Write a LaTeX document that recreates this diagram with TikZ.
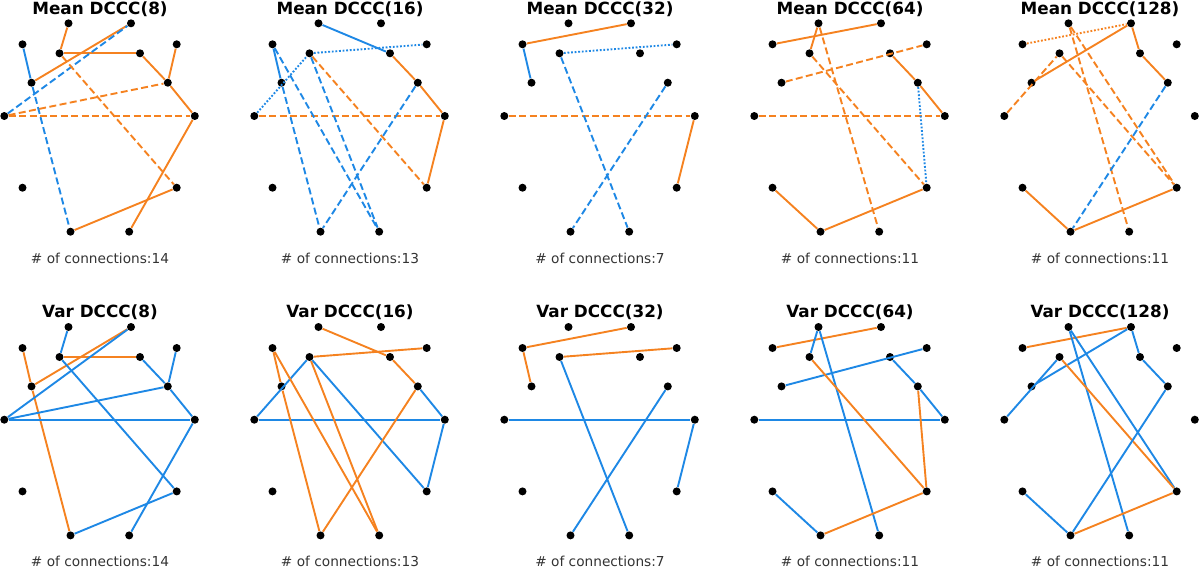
\documentclass[tikz,border=0pt]{standalone}
\usepackage{fontspec}
\setmainfont{DejaVu Sans}
\definecolor{dorange}{RGB}{245,130,32}
\definecolor{dblue}{RGB}{30,136,229}

\begin{document}
\begin{tikzpicture}[
            x=0.5pt, y=-0.5pt,
            pt/.style={circle, fill=black, inner sep=0pt, minimum size=4pt},
            orng/.style={draw=dorange, line width=0.95pt},
            blu/.style={draw=dblue, line width=0.95pt},
            dsh/.style={dash pattern=on 3.5pt off 1.7pt},
            dtt/.style={dash pattern=on 0.9pt off 0.9pt},
            ttl/.style={font=\bfseries\fontsize{8.4}{10}\selectfont},
            cnt/.style={font=\fontsize{6.85}{8}\selectfont, text=black!80},
        ]
            \useasboundingbox (0,0) rectangle (1200,569);
            \foreach \p/\ox/\oy/\ttxt/\ncon in {m8/0/0/Mean DCCC(8)/14, m16/250/0/Mean DCCC(16)/13,
                m32/500/0/Mean DCCC(32)/7, m64/750/0/Mean DCCC(64)/11, m128/1000/0/Mean DCCC(128)/11,
                v8/0/303.7/Var DCCC(8)/14, v16/250/303.7/Var DCCC(16)/13, v32/500/303.7/Var DCCC(32)/7,
                v64/750/303.7/Var DCCC(64)/11, v128/1000/303.7/Var DCCC(128)/11} {
                \node[ttl] (\p t) at (\ox+100, \oy+9) {\ttxt};
                \node[cnt] (\p c) at (\ox+100, \oy+258) {\# of connections:\ncon};
                \foreach \n/\x/\y in {a/68.5/23.3, b/131/23.3, c/22.5/44.3, d/59.5/53.3, e/140/53.3,
                    f/176.7/44.3, g/31.5/82.7, h/167.8/82.7, i/4.3/116, j/194.8/116,
                    k/22.5/187.7, l/176.7/187.7, m/70.5/231.7, n/129.2/231.7}
                    \node[pt] (\p\n) at (\ox+\x, \oy+\y) {};
            }
            \path (m8a) edge[orng] (m8d) (m8c) edge[blu] (m8g) (m8g) edge[orng] (m8b)
                (m8d) edge[orng] (m8e) (m8e) edge[orng] (m8h) (m8h) edge[orng] (m8j)
                (m8f) edge[orng] (m8h) (m8i) edge[blu, dsh] (m8b) (m8i) edge[orng, dsh] (m8h)
                (m8i) edge[orng, dsh] (m8j) (m8g) edge[blu, dsh] (m8m) (m8d) edge[orng, dsh] (m8l)
                (m8m) edge[orng] (m8l) (m8n) edge[orng] (m8j);
            \path (v8a) edge[blu] (v8d) (v8c) edge[orng] (v8g) (v8g) edge[orng] (v8m)
                (v8g) edge[orng] (v8b) (v8d) edge[orng] (v8e) (v8i) edge[blu] (v8b)
                (v8d) edge[blu] (v8l) (v8e) edge[blu] (v8h) (v8h) edge[blu] (v8j)
                (v8f) edge[blu] (v8h) (v8i) edge[blu] (v8h) (v8i) edge[blu] (v8j)
                (v8m) edge[blu] (v8l) (v8n) edge[blu] (v8j);
            \path (m16a) edge[blu] (m16e) (m16c) edge[blu] (m16g) (m16d) edge[blu, dtt] (m16f)
                (m16i) edge[blu, dtt] (m16d) (m16e) edge[orng] (m16h) (m16h) edge[orng] (m16j)
                (m16j) edge[orng] (m16l) (m16i) edge[orng, dsh] (m16j) (m16d) edge[orng, dsh] (m16l)
                (m16h) edge[blu, dsh] (m16m) (m16g) edge[blu, dsh] (m16m) (m16c) edge[blu, dsh] (m16n)
                (m16d) edge[blu, dsh] (m16n);
            \path (v16a) edge[orng] (v16e) (v16c) edge[orng] (v16g) (v16d) edge[orng] (v16f)
                (v16i) edge[blu] (v16d) (v16e) edge[orng] (v16h) (v16h) edge[blu] (v16j)
                (v16j) edge[blu] (v16l) (v16i) edge[blu] (v16j) (v16d) edge[blu] (v16l)
                (v16h) edge[orng] (v16m) (v16g) edge[orng] (v16m) (v16c) edge[orng] (v16n)
                (v16d) edge[orng] (v16n);
            \path (m32c) edge[orng] (m32b) (m32c) edge[blu] (m32g) (m32d) edge[blu, dtt] (m32f)
                (m32i) edge[orng, dsh] (m32j) (m32j) edge[orng] (m32l) (m32d) edge[blu, dsh] (m32n)
                (m32h) edge[blu, dsh] (m32m);
            \path (v32c) edge[orng] (v32b) (v32c) edge[orng] (v32g) (v32d) edge[orng] (v32f)
                (v32i) edge[blu] (v32j) (v32j) edge[blu] (v32l) (v32d) edge[blu] (v32n)
                (v32h) edge[blu] (v32m);
            \path (m64c) edge[orng] (m64b) (m64a) edge[orng] (m64d) (m64a) edge[orng, dsh] (m64n)
                (m64g) edge[orng, dsh] (m64f) (m64e) edge[orng] (m64h) (m64h) edge[orng] (m64j)
                (m64i) edge[orng, dsh] (m64j) (m64d) edge[orng, dsh] (m64l) (m64h) edge[blu, dtt] (m64l)
                (m64k) edge[orng] (m64m) (m64m) edge[orng] (m64l);
            \path (v64c) edge[orng] (v64b) (v64a) edge[blu] (v64d) (v64a) edge[blu] (v64n)
                (v64g) edge[blu] (v64f) (v64e) edge[blu] (v64h) (v64h) edge[blu] (v64j)
                (v64i) edge[blu] (v64j) (v64d) edge[orng] (v64l) (v64h) edge[orng] (v64l)
                (v64k) edge[blu] (v64m) (v64m) edge[orng] (v64l);
            \path (m128c) edge[orng, dtt] (m128b) (m128g) edge[orng] (m128b) (m128b) edge[orng] (m128e)
                (m128e) edge[orng] (m128h) (m128i) edge[orng, dsh] (m128d) (m128a) edge[orng, dsh] (m128n)
                (m128a) edge[orng, dsh] (m128l) (m128d) edge[orng, dsh] (m128l) (m128h) edge[blu, dsh] (m128m)
                (m128k) edge[orng] (m128m) (m128m) edge[orng] (m128l);
            \path (v128c) edge[orng] (v128b) (v128g) edge[blu] (v128b) (v128b) edge[blu] (v128e)
                (v128e) edge[blu] (v128h) (v128i) edge[blu] (v128d) (v128a) edge[blu] (v128n)
                (v128a) edge[blu] (v128l) (v128d) edge[orng] (v128l) (v128h) edge[blu] (v128m)
                (v128k) edge[blu] (v128m) (v128m) edge[orng] (v128l);
        \end{tikzpicture}
\end{document}
